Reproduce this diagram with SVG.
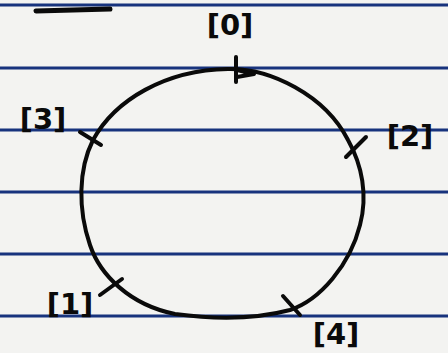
<svg xmlns="http://www.w3.org/2000/svg" width="448" height="353" viewBox="0 0 448 353">
<style>
.rule{stroke:#17337d;stroke-width:3}
.ink{fill:none;stroke:#0a0a0a;stroke-width:4;stroke-linecap:round;stroke-linejoin:round}
.lbl{font-family:"DejaVu Sans",sans-serif;font-size:29px;font-weight:bold;fill:#0a0a0a;text-anchor:middle}
</style>
<rect width="448" height="353" fill="#f3f3f1"/>
<g id="paper-lines">
<line class="rule" x1="0" y1="5" x2="448" y2="5"/>
<line class="rule" x1="0" y1="68" x2="448" y2="68"/>
<line class="rule" x1="0" y1="130" x2="448" y2="130"/>
<line class="rule" x1="0" y1="192" x2="448" y2="192"/>
<line class="rule" x1="0" y1="254" x2="448" y2="254"/>
<line class="rule" x1="0" y1="316" x2="448" y2="316"/>
</g>
<line class="ink" x1="36" y1="11" x2="110" y2="9" style="stroke-width:5"/>
<g id="connectors">
<path class="ink" d="M228,69 C270,68 325,95 348,140 C362,165 368,195 360,225 C350,265 320,300 290,310 C260,318 220,320 175,314 C130,305 100,275 90,245 C78,210 78,170 93,140 C115,100 165,70 228,69 Z"/>
</g>
<g id="n0">
<line class="ink" x1="236" y1="57" x2="236" y2="82"/>
<path class="ink" d="M237,70 L254,74 L237,77"/>
<text class="lbl" x="230" y="35">[0]</text>
</g>
<g id="n3">
<line class="ink" x1="80" y1="132" x2="101" y2="145"/>
<text class="lbl" x="43" y="129">[3]</text>
</g>
<g id="n2">
<line class="ink" x1="346" y1="157" x2="366" y2="137"/>
<text class="lbl" x="410" y="146">[2]</text>
</g>
<g id="n1">
<line class="ink" x1="100" y1="295" x2="122" y2="279"/>
<text class="lbl" x="70" y="314">[1]</text>
</g>
<g id="n4">
<line class="ink" x1="283" y1="296" x2="300" y2="315"/>
<text class="lbl" x="336" y="344">[4]</text>
</g>
</svg>
